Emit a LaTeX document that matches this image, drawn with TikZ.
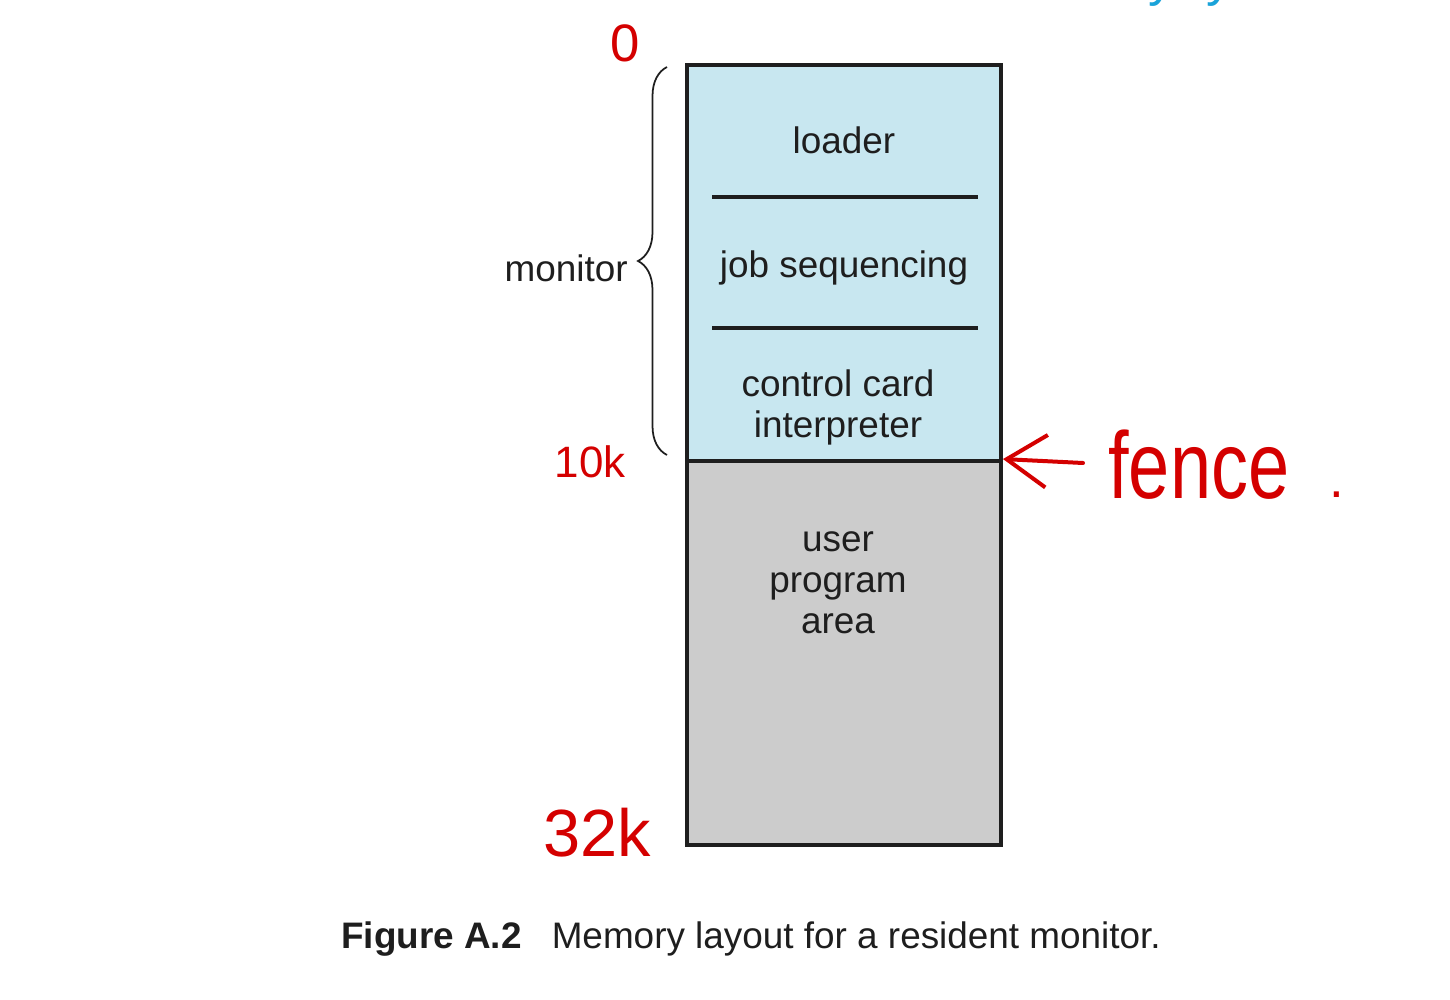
\documentclass[tikz,border=0pt]{standalone}
\usepackage{fontspec}
\setmainfont{Liberation Sans}
\usetikzlibrary{decorations.pathreplacing,arrows.meta}
\definecolor{monblue}{HTML}{C8E7F0}
\definecolor{usergray}{HTML}{CCCCCC}
\definecolor{ink}{HTML}{1E1E1E}
\definecolor{pen}{HTML}{D40000}
\definecolor{penblue}{HTML}{1AA3D9}
\tikzset{
  region/.style={draw=ink, line width=0.08cm, inner sep=0pt, minimum width=6.28cm},
  sep/.style={draw=ink, line width=0.08cm},
  lbl/.style={text=ink, font=\fontsize{21}{23.3}\selectfont, align=center, inner sep=0pt},
  hand/.style={text=pen, inner sep=0pt},
}
\begin{document}
\begin{tikzpicture}[x=0.02cm, y=-0.02cm]
\useasboundingbox (0,0) rectangle (1450,1000);
% clipped fragment of blue handwriting at the top edge
\begin{scope}
\clip (0,0) rectangle (1450,1000);
\node[text=penblue, anchor=base, inner sep=0pt, font=\fontsize{30}{30}\selectfont] (bluey1) at (1162,-4) {y};
\node[text=penblue, anchor=base, inner sep=0pt, font=\fontsize{30}{30}\selectfont] (bluey2) at (1220,-4) {y};
\end{scope}
% memory regions
\node[region, fill=monblue, minimum height=7.92cm] (mon) at (844,263) {};
\node[region, fill=usergray, minimum height=7.68cm] (user) at (844,653) {};
\draw[sep] (712,197) -- (978,197);
\draw[sep] (712,328) -- (978,328);
\node[lbl] (loader) at (844,140) {loader};
\node[lbl] (job) at (844,268) {job sequencing};
\node[lbl] (ctrl) at (838,407) {control card\\interpreter};
\node[lbl] (upa) at (838,583) {user\\program\\area};
% brace
\coordinate (bb) at (667,455);
\coordinate (bt) at (667,67);
\draw[ink, line width=0.035cm, decorate, decoration={brace, amplitude=0.58cm}] (bb) -- (bt);
\node[lbl, anchor=east] (monlbl) at (628,268) {monitor};
% red handwriting
\node[hand, font=\fontsize{30}{30}\selectfont, anchor=base] (zero) at (625,62) {0};
\node[hand, font=\fontsize{25}{25}\selectfont, anchor=base] (tenk) at (590,477) {10k};
\node[hand, font=\fontsize{38}{38}\selectfont, anchor=base] (thirtytwok) at (597,856) {32k};
\node[hand, font=\fontsize{54}{54}\selectfont, anchor=base west, xscale=0.78] (fence) at (1108,498) {fence};
\node[hand, font=\fontsize{30}{30}\selectfont, anchor=base] (dot) at (1337,497) {.};
\coordinate (arrstart) at (1083,463);
\draw[pen, line width=0.08cm, line cap=round, -{Straight Barb[length=0.8cm, width=1.05cm, line width=0.08cm]}] (arrstart) -- (user.north east);
% caption
\node[text=ink, anchor=base west, inner sep=0pt, font=\fontsize{21}{24}\selectfont] (cap) at (341,948) {\textbf{Figure A.2}\hspace{0.6cm}Memory layout for a resident monitor.};
\end{tikzpicture}
\end{document}
